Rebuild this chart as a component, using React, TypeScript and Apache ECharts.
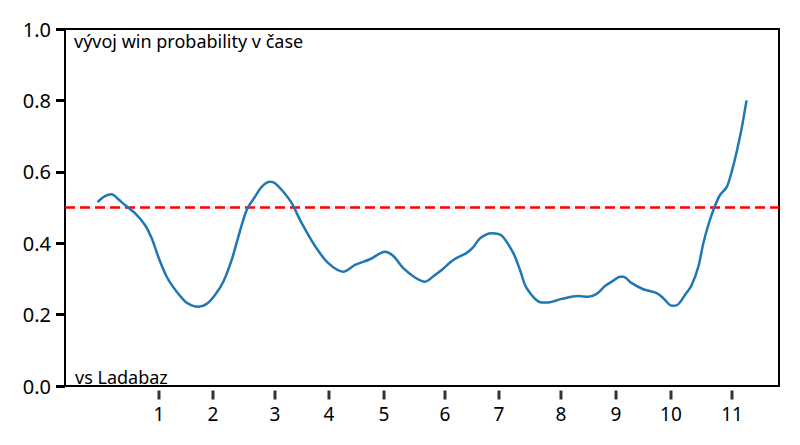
import React, { useEffect, useRef } from "react";
import * as echarts from "echarts";

// win probability curve: [x position, probability]
const winProbX: number[] = [
  0.0, 1.16, 2.19, 3.21, 4.24, 5.78, 7.32, 8.36, 9.37, 10.67, 12.21, 13.75, 15.54, 16.83, 18.11, 19.39,
  20.68, 21.7, 22.99, 24.27, 25.3, 26.58, 27.35, 28.63, 29.93, 31.47, 33.52, 35.57, 37.88, 39.68, 41.99,
  44.3, 45.58, 47.12, 48.92, 50.46, 52.0, 53.03, 54.82, 56.89, 57.9, 58.94, 60.74, 62.28, 64.07, 65.1,
  66.13, 68.44, 69.46, 71.52, 74.08, 75.62, 76.91, 78.19, 79.47, 80.5, 81.01, 82.31, 84.09, 86.16, 87.18,
  88.47, 89.33, 90.52, 91.55, 92.57, 93.34, 94.11, 94.99, 95.91, 96.94, 97.71, 98.48, 99.25, 100.0,
];
const winProbY: number[] = [
  0.515, 0.532, 0.537, 0.523, 0.507, 0.484, 0.451, 0.414, 0.362, 0.306, 0.264, 0.233, 0.222, 0.23, 0.255,
  0.292, 0.353, 0.418, 0.493, 0.53, 0.558, 0.572, 0.568, 0.544, 0.512, 0.456, 0.392, 0.344, 0.32, 0.339,
  0.355, 0.376, 0.364, 0.33, 0.304, 0.292, 0.311, 0.325, 0.353, 0.373, 0.389, 0.414, 0.428, 0.421, 0.372,
  0.325, 0.274, 0.234, 0.234, 0.244, 0.252, 0.25, 0.258, 0.28, 0.295, 0.306, 0.306, 0.288, 0.271, 0.26,
  0.246, 0.225, 0.227, 0.255, 0.283, 0.334, 0.4, 0.451, 0.498, 0.535, 0.557, 0.6, 0.656, 0.722, 0.8,
];

// reference line at 50 %
const refLevel = 0.5;
const xMin = -5;
const xMax = 105;

// round ticks on x axis
const roundTickPos: number[] = [9.48, 17.8, 27.35, 35.67, 44.15, 53.54, 61.86, 71.41, 79.89, 88.36, 97.76];
const roundTickLabels: string[] = ["1", "2", "3", "4", "5", "6", "7", "8", "9", "10", "11"];

const titleText = "vývoj win probability v čase";
const opponentText = "vs Ladabaz";

const FONT = "'Noto Sans', sans-serif";

export default function App() {
  const ref = useRef<HTMLDivElement>(null);

  useEffect(() => {
    if (!ref.current) return;
    const chart = echarts.init(ref.current, undefined, { renderer: "svg" });
    const lineData = winProbX.map((x, i) => [x, winProbY[i]]);
    const refData = [
      [xMin, refLevel],
      [xMax, refLevel],
    ];
    const tickData = roundTickPos.map((p) => [p, 0]);
    chart.setOption({
      animation: false,
      backgroundColor: "#ffffff",
      title: [
        {
          text: titleText,
          left: 69,
          top: 27,
          textStyle: { fontFamily: FONT, fontSize: 18, fontWeight: "normal", color: "#000" },
        },
        {
          text: opponentText,
          left: 70,
          top: 363,
          textStyle: { fontFamily: FONT, fontSize: 18, fontWeight: "normal", color: "#000" },
        },
      ],
      grid: {
        left: 65,
        right: 21,
        top: 29,
        bottom: 59,
        show: true,
        borderColor: "#000",
        borderWidth: 2,
        containLabel: false,
      },
      xAxis: {
        type: "value",
        min: xMin,
        max: xMax,
        axisLine: { show: false, onZero: false },
        splitLine: { show: false },
        axisTick: { show: false },
        axisLabel: {
          customValues: roundTickPos,
          formatter: (v: number) => {
            const idx = roundTickPos.findIndex((p) => Math.abs(p - v) < 1e-6);
            return idx >= 0 ? roundTickLabels[idx] : "";
          },
          margin: 18,
          fontFamily: FONT,
          fontSize: 19,
          color: "#000",
        },
      },
      yAxis: {
        type: "value",
        min: 0,
        max: 1,
        interval: 0.2,
        axisLine: { show: false, onZero: false },
        splitLine: { show: false },
        axisTick: {
          show: true,
          length: 9,
          lineStyle: { color: "#000", width: 3 },
        },
        axisLabel: {
          formatter: (v: number) => v.toFixed(1),
          margin: 14,
          fontFamily: FONT,
          fontSize: 20,
          color: "#000",
        },
      },
      series: [
        {
          type: "line",
          data: refData,
          showSymbol: false,
          lineStyle: { color: "#ff0000", width: 2.5, type: [10, 5] },
          z: 2,
        },
        {
          type: "line",
          data: lineData,
          showSymbol: false,
          smooth: 0.3,
          lineStyle: { color: "#1f77b4", width: 2.5 },
          z: 3,
        },
        {
          type: "scatter",
          data: tickData,
          symbol: "rect",
          symbolSize: [3, 9],
          symbolOffset: [0, 9],
          clip: false,
          silent: true,
          itemStyle: { color: "#000" },
          z: 4,
        },
      ],
    });
    return () => chart.dispose();
  }, []);

  return (
    <div
      ref={ref}
      style={{ position: "fixed", left: 0, top: 0, width: 800, height: 445, background: "#fff" }}
    />
  );
}
